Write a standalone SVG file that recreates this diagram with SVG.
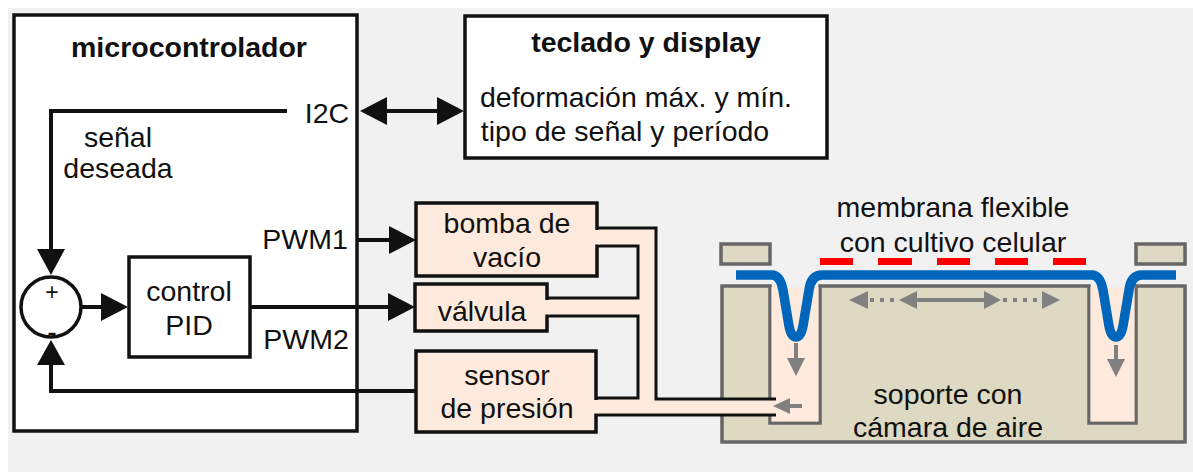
<svg xmlns="http://www.w3.org/2000/svg" width="1193" height="472" viewBox="0 0 1193 472">
<style>
text{font-family:"Liberation Sans",Arial,sans-serif;font-size:28.500px;fill:#111;text-anchor:middle}
.b{font-weight:bold}
.box{fill:#fff;stroke:#111;stroke-width:3.500}
.peach{fill:#fdeadc;stroke:#111;stroke-width:3.500}
.wire{fill:none;stroke:#111;stroke-width:4}
.tube{fill:none;stroke:#111;stroke-width:3}
.gray{fill:#808080;stroke:none}
.gl{stroke:#808080;stroke-width:4;fill:none}
.gd{stroke:#808080;stroke-width:4;fill:none;stroke-dasharray:4 6}
.sup{fill:#ddd9c3;stroke:#666;stroke-width:3.500}
.cut{fill:#fdeadc}
</style>
<rect width="1193" height="472" fill="#fff"/>
<rect x="8" y="8" width="1185" height="464" fill="#f1f1f1"/>

<g id="microcontrolador">
<rect class="box" x="14" y="15" width="343" height="416"/>
<text class="b" x="189" y="57">microcontrolador</text>
<text x="327" y="123">I2C</text>
<text x="118" y="147">señal</text>
<text x="118" y="178">deseada</text>
<text x="305" y="249">PWM1</text>
<text x="306" y="349">PWM2</text>
</g>

<g id="sumador">
<circle cx="51" cy="307" r="30" fill="#fff" stroke="#111" stroke-width="3.500"/>
<text x="52" y="300" style="font-size:23px">+</text>
<text x="52" y="341">-</text>
</g>

<g id="pid">
<rect class="box" x="129" y="257" width="121" height="100"/>
<text x="189" y="301">control</text>
<text x="189" y="335">PID</text>
</g>

<g id="teclado">
<rect class="box" x="465" y="16" width="362" height="142"/>
<text class="b" x="646" y="52">teclado y display</text>
<text x="636" y="107">deformación máx. y mín.</text>
<text x="625" y="141">tipo de señal y período</text>
</g>

<g id="soporte">
<path class="sup" d="M722 286H770V423H820V286H1089V423H1136V286H1185V442H722Z"/>
<path class="cut" d="M771.500 287H818.500V421.500H771.500ZM1090.500 287H1134.500V421.500H1090.500Z"/>
<rect class="sup" x="721" y="244" width="49" height="20"/>
<rect class="sup" x="1136" y="244" width="49" height="20"/>
<text x="948" y="404">soporte con</text>
<text x="948" y="437">cámara de aire</text>
</g>

<g id="tuberias">
<path class="cut" d="M596 228H656V399H776V415H596V398H638V316H547V298H638V246H596Z"/>
<path class="tube" d="M596 228H656V399H776M596 246H638V298H547M547 316H638V398H596M596 415H776"/>
</g>

<g id="bomba">
<rect class="peach" x="416" y="203" width="181" height="73"/>
<rect class="cut" x="594" y="230" width="6" height="14.500"/>
<text x="507" y="233">bomba de</text>
<text x="507" y="267">vacío</text>
</g>
<g id="valvula">
<rect class="peach" x="415" y="284" width="132" height="47"/>
<rect class="cut" x="544" y="300" width="6" height="14.500"/>
<text x="482" y="321">válvula</text>
</g>
<g id="sensor">
<rect class="peach" x="416" y="351" width="180" height="81"/>
<rect class="cut" x="593" y="400" width="6" height="13.500"/>
<text x="507" y="385">sensor</text>
<text x="507" y="418">de presión</text>
</g>

<g id="membrana">
<path d="M736 275H772Q780 275 783 290L789 326Q791 337 796 337Q801 337 803 326L809 290Q811 275 822 275H1092Q1100 275 1103 290L1109 326Q1111 337 1116 337Q1121 337 1123 326L1129 290Q1131 275 1142 275H1176" fill="none" stroke="#0066bb" stroke-width="9.500"/>
<g fill="#f00">
<rect x="820" y="258" width="33" height="7"/>
<rect x="878" y="258" width="34" height="7"/>
<rect x="937" y="258" width="33" height="7"/>
<rect x="995" y="258" width="33" height="7"/>
<rect x="1053" y="258" width="33" height="7"/>
</g>
<text x="953" y="217">membrana flexible</text>
<text x="953" y="252">con cultivo celular</text>
</g>

<g id="conectores">
<path class="wire" d="M287 111H51V250"/>
<polygon fill="#111" points="37,249 65,249 51,275"/>
<path class="wire" d="M380 111H445"/>
<polygon fill="#111" points="360,111 387,97 387,125"/>
<polygon fill="#111" points="464,111 437,97 437,125"/>
<path class="wire" d="M82 307H105"/>
<polygon fill="#111" points="101,293 128,307 101,321"/>
<path class="wire" d="M250 307H392"/>
<polygon fill="#111" points="388,293 415,307 388,321"/>
<path class="wire" d="M358 240H392"/>
<polygon fill="#111" points="389,226 416,240 389,254"/>
<path class="wire" d="M415 391H51V362"/>
<polygon fill="#111" points="37,365 65,365 51,340"/>
<path class="gl" d="M796 343V362M1116 345V362M786 406H802M915 300H986"/>
<path class="gd" d="M870 300H898M1003 300H1040"/>
<polygon class="gray" points="787,358 805,358 796,376"/>
<polygon class="gray" points="1107,359 1125,359 1116,377"/>
<polygon class="gray" points="773,406 790,398 790,414"/>
<polygon class="gray" points="849,300 868,291 868,309"/>
<polygon class="gray" points="899,300 917,291 917,309"/>
<polygon class="gray" points="1001,300 984,291 984,309"/>
<polygon class="gray" points="1060,300 1042,291 1042,309"/>
</g>
</svg>
